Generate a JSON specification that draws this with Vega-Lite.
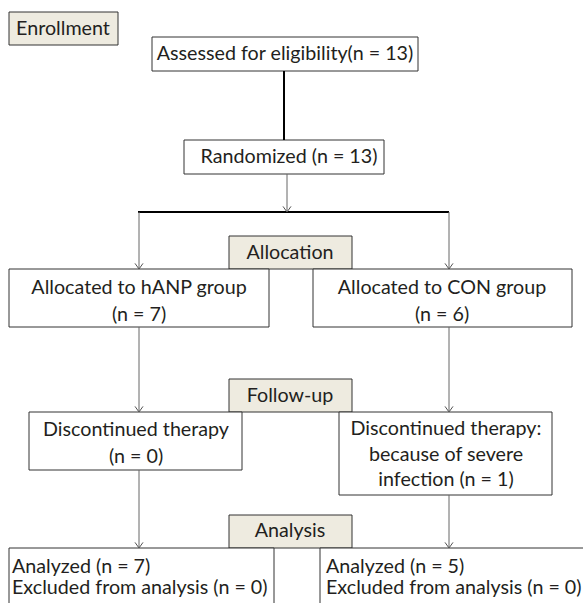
{
  "$schema": "https://vega.github.io/schema/vega-lite/v6.json",
  "width": 583,
  "height": 603,
  "padding": 0,
  "autosize": {"type": "none"},
  "background": "white",
  "config": {"view": {"stroke": null}},
  "datasets": {
    "boxes": [
      {"name": "Enrollment", "kind": "label", "x": 9, "x2": 118, "y": 12, "y2": 45},
      {"name": "Assessed", "kind": "box", "x": 152, "x2": 418, "y": 37, "y2": 71},
      {"name": "Randomized", "kind": "box", "x": 184, "x2": 384, "y": 140, "y2": 174},
      {"name": "Allocation", "kind": "label", "x": 229, "x2": 352, "y": 236, "y2": 269},
      {"name": "hANP", "kind": "box", "x": 9, "x2": 269, "y": 269, "y2": 327},
      {"name": "CON", "kind": "box", "x": 313, "x2": 572, "y": 269, "y2": 327},
      {"name": "Follow-up", "kind": "label", "x": 229, "x2": 352, "y": 379, "y2": 412},
      {"name": "DiscL", "kind": "box", "x": 29, "x2": 242, "y": 412, "y2": 470},
      {"name": "DiscR", "kind": "box", "x": 339, "x2": 552, "y": 412, "y2": 495},
      {"name": "Analysis", "kind": "label", "x": 229, "x2": 352, "y": 515, "y2": 548},
      {"name": "AnaL", "kind": "box", "x": 9, "x2": 274, "y": 548, "y2": 625},
      {"name": "AnaR", "kind": "box", "x": 320, "x2": 625, "y": 548, "y2": 625}
    ],
    "lines": [
      {"kind": "thick", "x": 284, "y": 71, "x2": 284, "y2": 140},
      {"kind": "thick", "x": 138, "y": 212, "x2": 449, "y2": 212},
      {"kind": "thin", "x": 287, "y": 174, "x2": 287, "y2": 212},
      {"kind": "thin", "x": 139, "y": 212, "x2": 139, "y2": 269},
      {"kind": "thin", "x": 449, "y": 212, "x2": 449, "y2": 269},
      {"kind": "thin", "x": 139, "y": 327, "x2": 139, "y2": 412},
      {"kind": "thin", "x": 449, "y": 327, "x2": 449, "y2": 412},
      {"kind": "thin", "x": 139, "y": 470, "x2": 139, "y2": 548},
      {"kind": "thin", "x": 449, "y": 495, "x2": 449, "y2": 548}
    ],
    "arrows": [
      {"x": 287, "y": 212},
      {"x": 139, "y": 269},
      {"x": 449, "y": 269},
      {"x": 139, "y": 412},
      {"x": 449, "y": 412},
      {"x": 139, "y": 548},
      {"x": 449, "y": 548}
    ],
    "ctexts": [
      {"text": "Enrollment", "x": 63, "y": 29},
      {"text": "Assessed for eligibility(n = 13)", "x": 285, "y": 54},
      {"text": "Randomized (n = 13)", "x": 289, "y": 157},
      {"text": "Allocation", "x": 290, "y": 253},
      {"text": "Allocated to hANP group", "x": 139, "y": 288},
      {"text": "(n = 7)", "x": 139, "y": 315},
      {"text": "Allocated to CON group", "x": 442, "y": 288},
      {"text": "(n = 6)", "x": 442, "y": 315},
      {"text": "Follow-up", "x": 290, "y": 396},
      {"text": "Discontinued therapy", "x": 136, "y": 430},
      {"text": "(n = 0)", "x": 136, "y": 457},
      {"text": "Discontinued therapy:", "x": 446, "y": 429},
      {"text": "because of severe", "x": 446, "y": 455},
      {"text": "infection (n = 1)", "x": 446, "y": 480},
      {"text": "Analysis", "x": 290, "y": 531}
    ],
    "ltexts": [
      {"text": "Analyzed (n = 7)", "x": 12, "y": 567},
      {"text": "Excluded from analysis (n = 0)", "x": 12, "y": 588},
      {"text": "Analyzed (n = 5)", "x": 326, "y": 567},
      {"text": "Excluded from analysis (n = 0)", "x": 326, "y": 588}
    ]
  },
  "layer": [
    {
      "data": {"name": "boxes"},
      "mark": {"type": "rect", "stroke": "#333333", "strokeWidth": 1, "clip": true},
      "encoding": {
        "x": {"field": "x", "type": "quantitative", "scale": {"domain": [0, 583], "nice": false, "zero": false}, "axis": null},
        "x2": {"field": "x2"},
        "y": {"field": "y", "type": "quantitative", "scale": {"domain": [0, 603], "nice": false, "zero": false, "reverse": true}, "axis": null},
        "y2": {"field": "y2"},
        "fill": {"field": "kind", "type": "nominal", "scale": {"domain": ["label", "box"], "range": ["#eeebe0", "#ffffff"]}, "legend": null}
      }
    },
    {
      "data": {"name": "lines"},
      "mark": {"type": "rule"},
      "encoding": {
        "x": {"field": "x", "type": "quantitative"},
        "x2": {"field": "x2"},
        "y": {"field": "y", "type": "quantitative"},
        "y2": {"field": "y2"},
        "color": {"field": "kind", "type": "nominal", "scale": {"domain": ["thick", "thin"], "range": ["#000000", "#666666"]}, "legend": null},
        "strokeWidth": {"field": "kind", "type": "nominal", "scale": {"domain": ["thick", "thin"], "range": [2, 1]}, "legend": null}
      }
    },
    {
      "data": {"name": "arrows"},
      "mark": {"type": "point", "shape": "M-1,-1.4L0,0L1,-1.4", "size": 64, "filled": false, "fill": null, "stroke": "#555555", "strokeWidth": 1, "opacity": 1},
      "encoding": {
        "x": {"field": "x", "type": "quantitative"},
        "y": {"field": "y", "type": "quantitative"}
      }
    },
    {
      "data": {"name": "ctexts"},
      "mark": {"type": "text", "font": "Lato", "fontSize": 19.7, "baseline": "middle", "align": "center", "color": "#231f20"},
      "encoding": {
        "x": {"field": "x", "type": "quantitative"},
        "y": {"field": "y", "type": "quantitative"},
        "text": {"field": "text"}
      }
    },
    {
      "data": {"name": "ltexts"},
      "mark": {"type": "text", "font": "Lato", "fontSize": 19.7, "baseline": "middle", "align": "left", "color": "#231f20"},
      "encoding": {
        "x": {"field": "x", "type": "quantitative"},
        "y": {"field": "y", "type": "quantitative"},
        "text": {"field": "text"}
      }
    }
  ]
}
